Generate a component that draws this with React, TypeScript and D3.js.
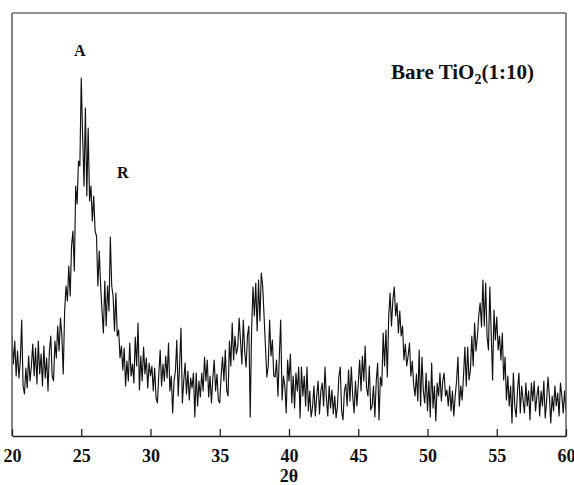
import React, { useEffect, useRef } from 'react';
import * as d3 from 'd3';

// XRD pattern of bare TiO2 (1:10) at 0.1 deg steps
const startAngle = 20;
const stepAngle = 0.1;
const intensity = [
  // 20.0 - 20.9
  100, 72, 95, 60, 85, 58, 75, 116, 50, 42,
  // 21
  68, 48, 80, 55, 70, 92, 60, 88, 52, 95,
  // 22
  62, 82, 50, 90, 58, 78, 45, 85, 100, 60,
  // 23
  55, 95, 78, 110, 85, 118, 100, 62, 125, 150,
  // 24
  135, 170, 140, 190, 205, 165, 250, 232, 275, 270,
  // 25
  358, 300, 250, 328, 240, 308, 235, 250, 215, 240,
  // 26
  205, 200, 150, 185, 150, 125, 103, 155, 110, 150,
  // 27
  125, 199, 150, 140, 105, 143, 100, 106, 78, 90,
  // 28
  66, 88, 50, 75, 55, 93, 60, 72, 53, 99,
  // 29
  70, 113, 46, 80, 55, 89, 62, 78, 48, 73,
  // 30
  60, 70, 45, 68, 38, 33, 62, 86, 50, 72,
  // 31
  55, 80, 58, 93, 45, 60, 23, 55, 65, 96,
  // 32
  40, 70, 108, 33, 55, 73, 42, 65, 36, 58,
  // 33
  48, 63, 19, 63, 30, 55, 39, 63, 45, 79,
  // 34
  55, 76, 39, 60, 33, 58, 76, 45, 62, 36,
  // 35
  33, 60, 79, 55, 86, 46, 40, 95, 70, 113,
  // 36
  76, 100, 82, 89, 118, 95, 72, 116, 85, 69,
  // 37
  100, 110, 19, 106, 149, 120, 153, 105, 156, 115,
  // 38
  163, 150, 120, 90, 59, 70, 116, 80, 96, 60,
  // 39
  59, 76, 40, 79, 116, 36, 60, 50, 23, 76,
  // 40
  55, 82, 33, 60, 28, 63, 45, 69, 18, 69,
  // 41
  40, 60, 30, 69, 25, 45, 19, 29, 50, 20,
  // 42
  40, 55, 22, 45, 53, 30, 69, 38, 20, 50,
  // 43
  28, 46, 22, 40, 18, 30, 59, 69, 25, 16,
  // 44
  45, 52, 30, 66, 35, 69, 40, 23, 55, 30,
  // 45
  52, 76, 45, 80, 55, 90, 48, 40, 70, 26,
  // 46
  30, 50, 19, 55, 73, 16, 59, 50, 103, 70,
  // 47
  106, 59, 120, 143, 110, 136, 149, 120, 133, 103,
  // 48
  125, 100, 110, 76, 92, 70, 80, 93, 60, 75,
  // 49
  52, 40, 62, 35, 86, 30, 79, 45, 33, 63,
  // 50
  25, 55, 19, 73, 28, 50, 15, 53, 40, 63,
  // 51
  35, 55, 63, 40, 46, 30, 50, 25, 45, 20,
  // 52
  40, 55, 79, 30, 50, 36, 60, 89, 50, 89,
  // 53
  56, 66, 100, 70, 113, 85, 99, 120, 133, 109,
  // 54
  156, 110, 153, 100, 86, 149, 103, 56, 126, 96,
  // 55
  119, 86, 100, 76, 103, 56, 79, 36, 60, 30,
  // 56
  50, 13, 63, 30, 19, 46, 63, 23, 50, 36,
  // 57
  23, 53, 30, 45, 16, 53, 35, 55, 25, 40,
  // 58
  50, 20, 45, 30, 55, 18, 35, 59, 40, 13,
  // 59
  40, 25, 50, 30, 43, 20, 53, 40, 23, 45,
  // 60
  25,
];

const xTicks = [20, 25, 30, 35, 40, 45, 50, 55, 60];
const xLabel = '2θ';
const peakLabels = [
  { text: 'A', angle: 24.9, level: 380 },
  { text: 'R', angle: 28.0, level: 258 },
];

const serif = '"Liberation Serif", "DejaVu Serif", serif';

export default function App() {
  const ref = useRef<SVGSVGElement>(null);

  useEffect(() => {
    const width = 574;
    const height = 485;
    const margin = { top: 13, right: 8, bottom: 49, left: 12 };
    const svg = d3.select(ref.current);
    svg.selectAll('*').remove();

    const xScale = d3
      .scaleLinear()
      .domain([20, 60])
      .range([margin.left, width - margin.right]);
    const yScale = d3
      .scaleLinear()
      .domain([0, 423])
      .range([height - margin.bottom, margin.top]);

    const points: [number, number][] = intensity.map((v, i) => [startAngle + i * stepAngle, v]);

    svg
      .append('defs')
      .append('clipPath')
      .attr('id', 'plot-clip')
      .append('rect')
      .attr('x', margin.left)
      .attr('y', margin.top)
      .attr('width', width - margin.left - margin.right)
      .attr('height', height - margin.top - margin.bottom);

    const line = d3
      .line<[number, number]>()
      .x((d) => xScale(d[0]))
      .y((d) => yScale(d[1]));

    svg
      .append('path')
      .datum(points)
      .attr('clip-path', 'url(#plot-clip)')
      .attr('d', line)
      .attr('fill', 'none')
      .attr('stroke', '#111')
      .attr('stroke-width', 1.15)
      .attr('stroke-linejoin', 'round');

    // frame: top and right thin, left grey
    const x0 = xScale(20);
    const x1 = xScale(60);
    const y0 = yScale(0);
    const y1 = margin.top;
    svg.append('line').attr('x1', x0).attr('x2', x1).attr('y1', y1).attr('y2', y1).attr('stroke', '#222').attr('stroke-width', 1.2);
    svg.append('line').attr('x1', x1).attr('x2', x1).attr('y1', y1).attr('y2', y0).attr('stroke', '#555').attr('stroke-width', 1.4);
    svg.append('line').attr('x1', x0).attr('x2', x0).attr('y1', y1).attr('y2', y0).attr('stroke', '#666').attr('stroke-width', 1.6);

    const xAxis = d3
      .axisBottom(xScale)
      .tickValues(xTicks)
      .tickSize(-7)
      .tickPadding(13)
      .tickSizeOuter(0)
      .tickFormat((d) => String(d));

    const gX = svg.append('g').attr('transform', `translate(0,${y0})`).call(xAxis);
    gX.select('.domain').attr('stroke', '#222').attr('stroke-width', 1.6);
    gX.selectAll('.tick line').attr('stroke', '#222').attr('stroke-width', 1.3);
    gX.selectAll('.tick text')
      .attr('fill', '#111')
      .attr('font-family', serif)
      .attr('font-weight', 'bold')
      .attr('font-size', 18);

    svg
      .append('text')
      .attr('x', xScale(40))
      .attr('y', 482)
      .attr('text-anchor', 'middle')
      .attr('font-family', serif)
      .attr('font-weight', 'bold')
      .attr('font-size', 18)
      .attr('fill', '#111')
      .text(xLabel);

    svg
      .selectAll('.peak-label')
      .data(peakLabels)
      .enter()
      .append('text')
      .attr('class', 'peak-label')
      .attr('x', (d) => xScale(d.angle))
      .attr('y', (d) => yScale(d.level))
      .attr('text-anchor', 'middle')
      .attr('font-family', serif)
      .attr('font-weight', 'bold')
      .attr('font-size', 16)
      .attr('fill', '#111')
      .text((d) => d.text);

    const title = svg
      .append('text')
      .attr('x', 391)
      .attr('y', 79)
      .attr('font-family', serif)
      .attr('font-weight', 'bold')
      .attr('font-size', 21)
      .attr('fill', '#111');
    title.append('tspan').text('Bare TiO');
    title.append('tspan').attr('font-size', 14).attr('dy', 5).text('2');
    title.append('tspan').attr('dy', -5).text('(1:10)');
  }, []);

  return (
    <svg
      ref={ref}
      width={574}
      height={485}
      style={{ position: 'absolute', left: 0, top: 0, background: '#fff' }}
    />
  );
}
